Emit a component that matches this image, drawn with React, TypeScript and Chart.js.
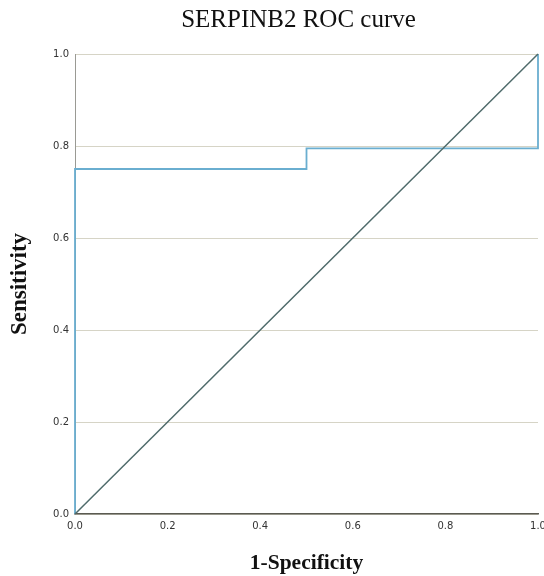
import React, { useEffect, useRef } from "react";
import { Chart, registerables } from "chart.js";

Chart.register(...registerables);

const titleText = "SERPINB2 ROC curve";
const xTitle = "1-Specificity";
const yTitle = "Sensitivity";
const rocFpr = [0, 0, 0.5, 0.5, 1, 1];
const rocTpr = [0, 0.75, 0.75, 0.795, 0.795, 1];
const refFpr = [0, 1];
const refTpr = [0, 1];
const tickValues = [0, 0.2, 0.4, 0.6, 0.8, 1.0];

const plotTitle = {
  id: "plotTitle",
  afterDraw(chart: any) {
    const { ctx, chartArea } = chart;
    ctx.save();
    ctx.font = "25px 'Liberation Serif'";
    ctx.fillStyle = "#111";
    ctx.textAlign = "center";
    ctx.textBaseline = "alphabetic";
    ctx.fillText(titleText, (chartArea.left + chartArea.right) / 2 - 8, 27);
    ctx.restore();
  },
};

export default function App() {
  const ref = useRef<HTMLCanvasElement>(null);
  useEffect(() => {
    const ctx = ref.current!;
    const chart = new Chart(ctx, {
      type: "scatter",
      data: {
        datasets: [
          {
            data: refFpr.map((x, i) => ({ x, y: refTpr[i] })),
            showLine: true,
            borderColor: "#4f6b6b",
            borderWidth: 1.5,
            pointRadius: 0,
            fill: false,
            clip: false,
          },
          {
            data: rocFpr.map((x, i) => ({ x, y: rocTpr[i] })),
            showLine: true,
            borderColor: "#6aaed0",
            borderWidth: 1.8,
            pointRadius: 0,
            fill: false,
            clip: false,
          },
        ],
      },
      options: {
        animation: false,
        responsive: false,
        maintainAspectRatio: false,
        layout: { padding: { left: 0, right: 6, top: 54, bottom: 0 } },
        plugins: {
          legend: { display: false },
          tooltip: { enabled: false },
          title: { display: false },
        },
        scales: {
          x: {
            type: "linear",
            min: 0,
            max: 1,
            afterBuildTicks: (s: any) => {
              s.ticks = tickValues.map((v) => ({ value: v }));
            },
            afterFit: (s: any) => {
              s.height = 62;
              s.paddingRight = 0;
              s.paddingLeft = 0;
            },
            grid: { display: false, drawTicks: false },
            border: { display: true, color: "#5b5a52", width: 1.5 },
            ticks: {
              color: "#333",
              font: { family: "DejaVu Sans", size: 10 },
              padding: 6,
              maxRotation: 0,
              callback: (v: any) => Number(v).toFixed(1),
            },
            title: {
              display: true,
              text: xTitle,
              color: "#111",
              font: { family: "Liberation Serif", size: 21.5, weight: "bold" },
              padding: { top: 10, bottom: 0 },
            },
          },
          y: {
            type: "linear",
            min: 0,
            max: 1,
            afterBuildTicks: (s: any) => {
              s.ticks = tickValues.map((v) => ({ value: v }));
            },
            afterFit: (s: any) => {
              s.width = 75;
              s.paddingTop = 0;
              s.paddingBottom = 0;
            },
            grid: { color: "#d6d4c6", drawTicks: false, lineWidth: 1 },
            border: { display: true, color: "#9a9a94", width: 1 },
            ticks: {
              color: "#333",
              font: { family: "DejaVu Sans", size: 10 },
              padding: 6,
              callback: (v: any) => Number(v).toFixed(1),
            },
            title: {
              display: true,
              text: yTitle,
              color: "#111",
              font: { family: "Liberation Serif", size: 23, weight: "bold" },
              padding: { top: 6, bottom: 10 },
            },
          },
        },
      },
      plugins: [plotTitle],
    });
    return () => chart.destroy();
  }, []);
  return (
    <div style={{ position: "fixed", left: 0, top: 0, width: 544, height: 576, background: "#fff" }}>
      <canvas ref={ref} width={544} height={576} />
    </div>
  );
}
